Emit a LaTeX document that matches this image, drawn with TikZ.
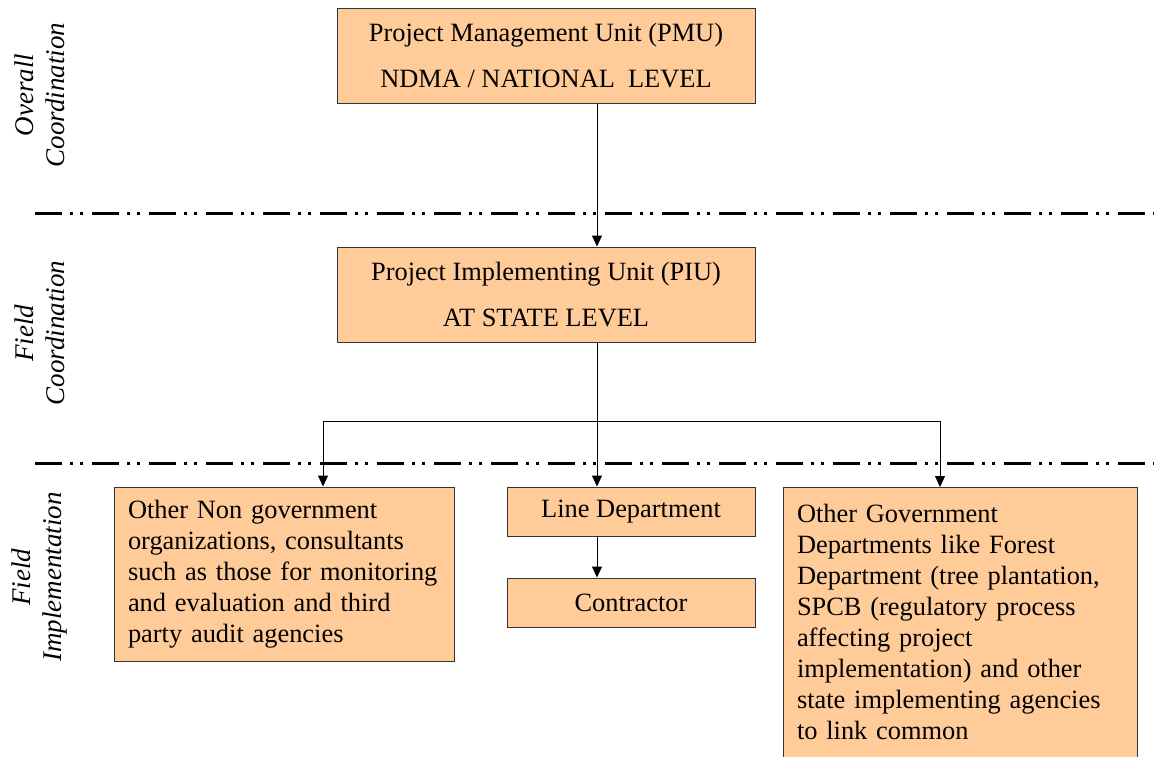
\documentclass[tikz,border=0pt]{standalone}
\usepackage{fontspec}
\setmainfont{Liberation Serif}
\usetikzlibrary{arrows.meta,positioning,calc}
\definecolor{boxfill}{RGB}{255,204,153}
\definecolor{boxline}{RGB}{51,51,51}

\begin{document}
\begin{tikzpicture}[x = 0.5pt, y = -0.5pt,
    font = \fontsize{13.2}{15.5}\selectfont,
    unitbox/.style = {draw = boxline, fill = boxfill, line width = 0.5pt, inner sep = 0pt},
    arr/.style = {-{Triangle[width = 5pt, length = 5.5pt]}, line width = 0.5pt},
    levelline/.style = {line width = 1.5pt, dash pattern = on 13.5pt off 4pt on 1.5pt off 3.5pt on 1.5pt off 4.5pt},
    levellabel/.style = {rotate = 90, align = center, inner sep = 0pt, font = \fontsize{13.5}{15.5}\selectfont\itshape}]
    \useasboundingbox (0,0) rectangle (1154,756);
    % level separators and labels
    \draw[levelline] (35,213) -- (1154,213);
    \draw[levelline] (35,463) -- (1154,463);
    \node[levellabel] (overall) at (40,95) {Overall\\Coordination};
    \node[levellabel] (fieldcoord) at (40,333) {Field\\Coordination};
    \node[levellabel] (fieldimpl) at (40,577) {Field\\Implementation};
    % units
    \node[unitbox, minimum width = 209pt, minimum height = 47.5pt, align = center] (pmu) at (546,55.5) {Project Management Unit (PMU)\\[7.5pt]NDMA / NATIONAL\ \ LEVEL};
    \node[unitbox, minimum width = 209pt, minimum height = 47.5pt, align = center] (piu) at (546,294.5) {Project Implementing Unit (PIU)\\[7.5pt]AT STATE LEVEL};
    \node[unitbox, minimum height = 87pt, text width = 156pt, inner xsep = 7pt, align = left] (ngo) at (284,574) {Other Non government\\organizations, consultants\\such as those for monitoring\\and evaluation and third\\party audit agencies};
    \node[unitbox, minimum width = 124pt, minimum height = 24.5pt] (linedept) at (631,511.5) {Line Department};
    \node[unitbox, minimum width = 124pt, minimum height = 24.5pt] (contractor) at (631,602.5) {Contractor};
    \node[unitbox, anchor = north, text width = 163pt, inner xsep = 7pt, inner ysep = 8.5pt, align = left] (ogd) at (960,487) {Other Government\\Departments like Forest\\Department (tree plantation,\\SPCB (regulatory process\\affecting project\\implementation) and other\\state implementing agencies\\to link common};
    % connectors
    \coordinate (split) at (597,421);
    \coordinate (ngoin) at (323,421);
    \coordinate (ogdin) at (940,421);
    \draw[arr] (pmu.south -| split) -- (piu.north -| split);
    \draw[line width = 0.5pt] (piu.south -| split) -- (split);
    \draw[line width = 0.5pt] (ngoin) -- (ogdin);
    \draw[arr] (ngoin) -- (ngo.north -| ngoin);
    \draw[arr] (split) -- (linedept.north -| split);
    \draw[arr] (ogdin) -- (ogd.north -| ogdin);
    \draw[arr] (linedept.south -| split) -- (contractor.north -| split);
\end{tikzpicture}
\end{document}
